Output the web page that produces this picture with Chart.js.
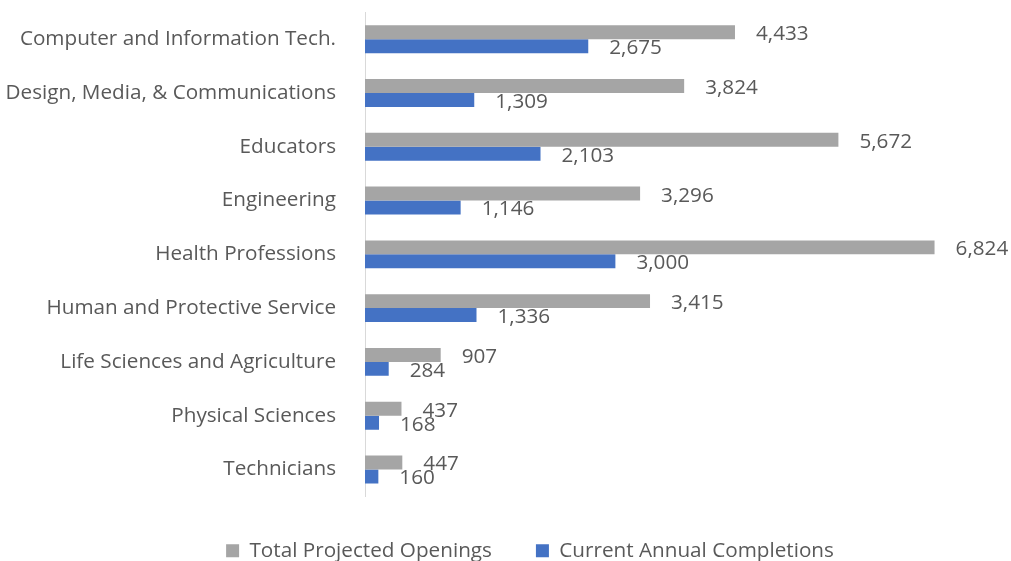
<!DOCTYPE html>
<html>
<head>
<meta charset="utf-8">
<script src="https://cdn.jsdelivr.net/npm/chart.js@4"></script>
<style>
  html, body { margin: 0; padding: 0; background: #fff; }
  #wrap { width: 1011px; height: 561px; }
</style>
</head>
<body>
<div id="wrap"><canvas id="myChart" width="1011" height="561"></canvas></div>
<script>
const categories = [
    'Computer and Information Tech.',
    'Design, Media, & Communications',
    'Educators',
    'Engineering',
    'Health Professions',
    'Human and Protective Service',
    'Life Sciences and Agriculture',
    'Physical Sciences',
    'Technicians'
];
const totalOpenings = [4433, 3824, 5672, 3296, 6824, 3415, 907, 437, 447];
const annualCompletions = [2675, 1309, 2103, 1146, 3000, 1336, 284, 168, 160];

const fontFamily = "'Open Sans'";
const fontSize = 20.7;
const textColor = '#595959';

// labels at the end of each bar, like excel "outside end"
const barLabels = {
    id: 'barLabels',
    afterDatasetsDraw(chart) {
        let ctx = chart.ctx;
        ctx.save();
        ctx.font = fontSize + 'px ' + fontFamily;
        ctx.fillStyle = textColor;
        ctx.textAlign = 'left';
        ctx.textBaseline = 'middle';
        chart.data.datasets.forEach((ds, i) => {
            let meta = chart.getDatasetMeta(i);
            meta.data.forEach((bar, j) => {
                ctx.fillText(ds.data[j].toLocaleString('en-US'), bar.x + 21, bar.y + 2);
            });
        });
        ctx.restore();
    }
};

let ctx = document.getElementById('myChart').getContext('2d');

this.chart = new Chart(ctx, {
    type: 'bar',
    data: {
        labels: categories,
        datasets: [
            {
                label: 'Total Projected Openings',
                data: totalOpenings,
                backgroundColor: '#A5A5A5',
                categoryPercentage: 0.52,
                barPercentage: 1
            },
            {
                label: 'Current Annual Completions',
                data: annualCompletions,
                backgroundColor: '#4472C4',
                categoryPercentage: 0.52,
                barPercentage: 1
            }]
    },
    options: {
        indexAxis: 'y',
        responsive: false,
        animation: false,
        layout: {
            // negative right pad keeps the legend centred like the excel one
            padding: { top: 9, right: -49, left: 0, bottom: -10 }
        },
        scales: {
            x: {
                display: false,
                min: 0,
                max: 7740
            },
            y: {
                afterFit: (scale) => { scale.width = 365; },
                grid: { drawOnChartArea: false, drawTicks: true, tickLength: 29, tickColor: 'rgba(0,0,0,0)' },
                border: { display: true, color: '#D9D9D9', width: 1 },
                ticks: {
                    padding: 0,
                    color: textColor,
                    font: { family: fontFamily, size: fontSize }
                }
            }
        },
        plugins: {
            legend: {
                position: 'bottom',
                labels: {
                    color: textColor,
                    font: { family: fontFamily, size: fontSize },
                    boxWidth: 13,
                    boxHeight: 13,
                    padding: 44
                }
            },
            tooltip: { enabled: false }
        }
    },
    plugins: [barLabels]
});
</script>
</body>
</html>
